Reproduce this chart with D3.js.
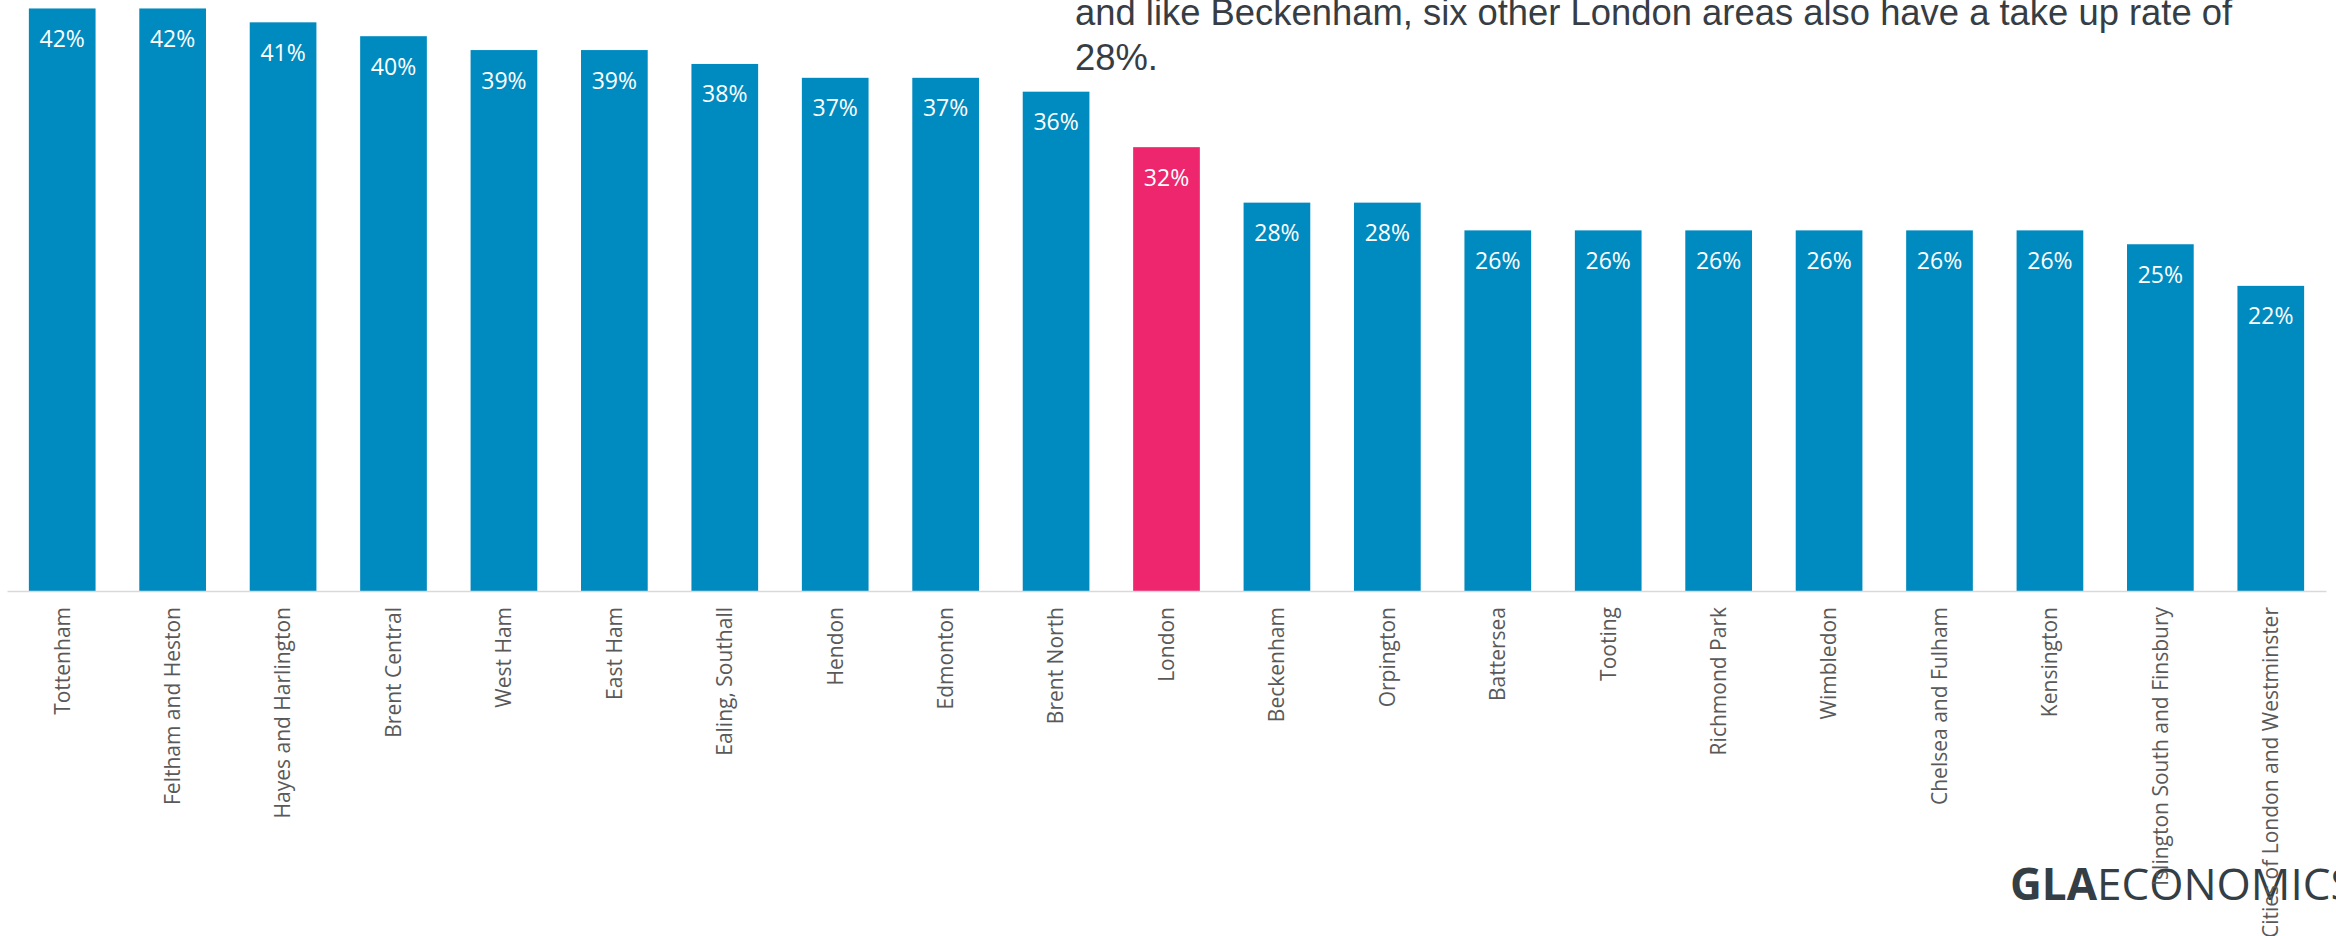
<!DOCTYPE html>
<html>
<head>
<meta charset="utf-8">
<script src="https://cdn.jsdelivr.net/npm/d3@7/dist/d3.min.js"></script>
<style>
  html, body { margin: 0; padding: 0; background: #ffffff; }
  svg { display: block; }
</style>
</head>
<body>
<svg id="chart" width="2336" height="936"></svg>
<script>
// Free school meals take-up rate by area
const areas = [
  "Tottenham", "Feltham and Heston", "Hayes and Harlington", "Brent Central",
  "West Ham", "East Ham", "Ealing, Southall", "Hendon", "Edmonton",
  "Brent North", "London", "Beckenham", "Orpington", "Battersea", "Tooting",
  "Richmond Park", "Wimbledon", "Chelsea and Fulham", "Kensington",
  "Islington South and Finsbury", "Cities of London and Westminster"
];
const takeUp = [42, 42, 41, 40, 39, 39, 38, 37, 37, 36, 32, 28, 28, 26, 26, 26, 26, 26, 26, 25, 22];
const highlighted = ["London"];

const noteLines = [
  "and like Beckenham, six other London areas also have a take up rate of",
  "28%."
];
const logoBold = "GLA";
const logoLight = "ECONOMICS";

const W = 2336, H = 936;
const baseY = 591;
const blue = "#008bc0";
const pink = "#ee266d";

const svg = d3.select("#chart");
svg.append("rect").attr("width", W).attr("height", H).attr("fill", "#ffffff");

const data = areas.map((a, i) => ({ area: a, value: takeUp[i] / 100 }));

const x = d3.scaleBand()
  .domain(areas)
  .range([7, 2326])
  .paddingInner(0.396)
  .paddingOuter(0.198);

const y = d3.scaleLinear()
  .domain([0, 0.45])
  .range([baseY, baseY - 0.45 * 1387]);

// Logo sits beneath the axis labels
const logo = svg.append("text")
  .attr("x", 2010)
  .attr("y", 900)
  .attr("font-family", "'Open Sans', 'Noto Sans', sans-serif")
  .attr("font-size", 44)
  .attr("fill", "#343e45");
logo.append("tspan").attr("font-weight", 700).text(logoBold);
logo.append("tspan").attr("font-weight", 400).text(logoLight);

// Bars
svg.append("g")
  .selectAll("rect")
  .data(data)
  .join("rect")
  .attr("x", d => x(d.area))
  .attr("width", x.bandwidth())
  .attr("y", d => y(d.value))
  .attr("height", d => y(0) - y(d.value))
  .attr("fill", d => highlighted.includes(d.area) ? pink : blue);

// Value labels inside the bars
svg.append("g")
  .selectAll("text")
  .data(data)
  .join("text")
  .attr("x", d => x(d.area) + x.bandwidth() / 2)
  .attr("y", d => y(d.value) + 38.5)
  .attr("text-anchor", "middle")
  .attr("font-family", "'Open Sans', 'Noto Sans', sans-serif")
  .attr("font-size", 23)
  .attr("fill", "#ffffff")
  .text(d => d3.format(".0%")(d.value));

// Category axis
const axis = svg.append("g")
  .attr("transform", `translate(0,${baseY})`)
  .call(d3.axisBottom(x).tickSize(0).tickSizeOuter(0));

axis.select(".domain")
  .attr("stroke", "#d9d9d9")
  .attr("stroke-width", 1.5);

axis.selectAll(".tick text")
  .attr("transform", "rotate(-90)")
  .attr("x", -16)
  .attr("y", 0)
  .attr("dy", "0.35em")
  .attr("text-anchor", "end")
  .attr("font-family", "'Open Sans', 'Noto Sans', sans-serif")
  .attr("font-size", 21)
  .attr("fill", "#595959");

// Annotation text at the top right
svg.append("g")
  .selectAll("text")
  .data(noteLines)
  .join("text")
  .attr("x", 1075)
  .attr("y", (d, i) => 25 + i * 45)
  .attr("font-family", "'Liberation Sans', Arial, sans-serif")
  .attr("font-size", 36.4)
  .attr("fill", "#363d44")
  .text(d => d);
</script>
</body>
</html>
